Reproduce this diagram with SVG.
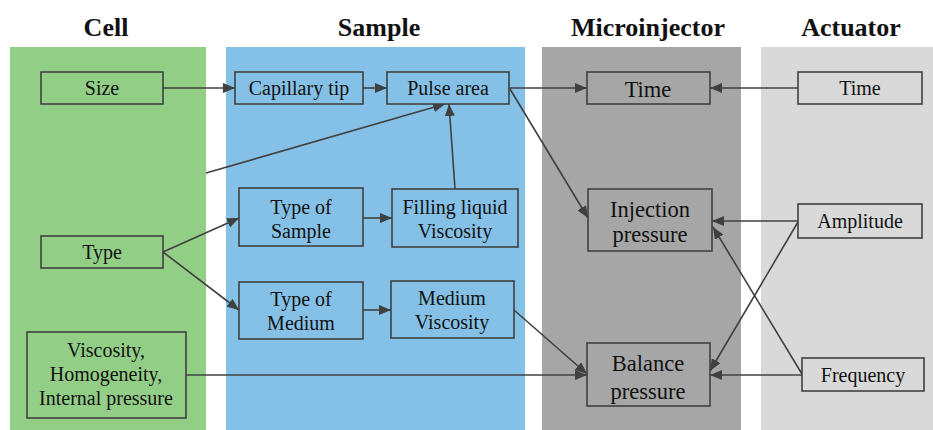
<svg xmlns="http://www.w3.org/2000/svg" width="933" height="430" viewBox="0 0 933 430">
  <style>
    .box { stroke: #404040; stroke-width: 1.6; }
    .cell { fill: #93CE87; }
    .smp { fill: #85C1E6; }
    .mic { fill: #A6A6A6; }
    .act { fill: #D9D9D9; }
    text { font-family: 'Liberation Serif', 'Times New Roman', Tinos, 'DejaVu Serif', serif; fill: #111; text-anchor: middle; }
    .lbl { font-size: 20px; }
    .big { font-size: 22.5px; }
    .hdr { font-size: 26px; font-weight: bold; }
    .edge { stroke: #404040; stroke-width: 1.6; fill: none; marker-end: url(#arrow); }
  </style>
  <defs>
    <marker id="arrow" viewBox="0 0 12 10" refX="12" refY="5" markerWidth="12" markerHeight="10" markerUnits="userSpaceOnUse" orient="auto">
      <path d="M0,0 L12,5 L0,10 z" fill="#404040"/>
    </marker>
  </defs>

  <rect width="933" height="430" fill="#ffffff"/>

  <!-- column backgrounds -->
  <g id="columns">
    <rect x="10" y="47" width="196" height="383" fill="#93CE87"/>
    <rect x="226" y="47" width="299" height="383" fill="#85C1E6"/>
    <rect x="542" y="47" width="199" height="383" fill="#A6A6A6"/>
    <rect x="761" y="47" width="172" height="383" fill="#D9D9D9"/>
  </g>

  <!-- column headings -->
  <g id="headers">
    <text class="hdr" x="106" y="36">Cell</text>
    <text class="hdr" x="379" y="36">Sample</text>
    <text class="hdr" x="648" y="36">Microinjector</text>
    <text class="hdr" x="851" y="36">Actuator</text>
  </g>

  <!-- connectors -->
  <g id="connectors">
    <line class="edge" x1="163" y1="88" x2="235" y2="88"/>
    <line class="edge" x1="363" y1="88" x2="387" y2="88"/>
    <line class="edge" x1="206" y1="173" x2="445" y2="104"/>
    <line class="edge" x1="455" y1="189" x2="449" y2="104"/>
    <line class="edge" x1="509" y1="88" x2="587" y2="88"/>
    <line class="edge" x1="510" y1="89" x2="588" y2="218"/>
    <line class="edge" x1="798" y1="88" x2="710" y2="88"/>
    <line class="edge" x1="163" y1="252" x2="239" y2="218"/>
    <line class="edge" x1="163" y1="252" x2="239" y2="310"/>
    <line class="edge" x1="363" y1="218" x2="392" y2="218"/>
    <line class="edge" x1="363" y1="310" x2="391" y2="310"/>
    <line class="edge" x1="514" y1="310" x2="587" y2="374"/>
    <line class="edge" x1="186" y1="375" x2="587" y2="375"/>
    <line class="edge" x1="798" y1="221" x2="712" y2="221"/>
    <line class="edge" x1="798" y1="222" x2="710" y2="371"/>
    <line class="edge" x1="802" y1="374" x2="713" y2="227"/>
    <line class="edge" x1="802" y1="375" x2="710" y2="375"/>
  </g>

  <!-- Cell column -->
  <g id="cell-size">
    <rect class="box cell" x="41" y="72" width="122" height="32"/>
    <text class="lbl" x="102" y="95">Size</text>
  </g>
  <g id="cell-type">
    <rect class="box cell" x="41" y="236" width="122" height="32"/>
    <text class="lbl" x="102" y="259">Type</text>
  </g>
  <g id="cell-viscosity">
    <rect class="box cell" x="27" y="332" width="159" height="86"/>
    <text class="lbl" x="106" y="357">Viscosity,</text>
    <text class="lbl" x="106" y="381">Homogeneity,</text>
    <text class="lbl" x="106" y="405">Internal pressure</text>
  </g>

  <!-- Sample column -->
  <g id="capillary-tip">
    <rect class="box smp" x="235" y="72" width="128" height="32"/>
    <text class="lbl" x="299" y="95">Capillary tip</text>
  </g>
  <g id="pulse-area">
    <rect class="box smp" x="387" y="72" width="122" height="32"/>
    <text class="lbl" x="448" y="95">Pulse area</text>
  </g>
  <g id="type-of-sample">
    <rect class="box smp" x="239" y="188" width="124" height="58"/>
    <text class="lbl" x="301" y="214">Type of</text>
    <text class="lbl" x="301" y="238">Sample</text>
  </g>
  <g id="filling-liquid">
    <rect class="box smp" x="392" y="189" width="126" height="58"/>
    <text class="lbl" x="455" y="214">Filling liquid</text>
    <text class="lbl" x="455" y="238">Viscosity</text>
  </g>
  <g id="type-of-medium">
    <rect class="box smp" x="239" y="282" width="124" height="57"/>
    <text class="lbl" x="301" y="306">Type of</text>
    <text class="lbl" x="301" y="330">Medium</text>
  </g>
  <g id="medium-viscosity">
    <rect class="box smp" x="391" y="281" width="123" height="57"/>
    <text class="lbl" x="452" y="305">Medium</text>
    <text class="lbl" x="452" y="329">Viscosity</text>
  </g>

  <!-- Microinjector column -->
  <g id="mi-time">
    <rect class="box mic" x="587" y="72" width="123" height="32"/>
    <text class="big" x="648" y="97">Time</text>
  </g>
  <g id="injection-pressure">
    <rect class="box mic" x="588" y="189" width="124" height="62"/>
    <text class="big" x="650" y="217">Injection</text>
    <text class="big" x="650" y="242">pressure</text>
  </g>
  <g id="balance-pressure">
    <rect class="box mic" x="587" y="343" width="123" height="63"/>
    <text class="big" x="648" y="371">Balance</text>
    <text class="big" x="648" y="399">pressure</text>
  </g>

  <!-- Actuator column -->
  <g id="act-time">
    <rect class="box act" x="798" y="72" width="124" height="32"/>
    <text class="lbl" x="860" y="95">Time</text>
  </g>
  <g id="amplitude">
    <rect class="box act" x="798" y="204" width="124" height="34"/>
    <text class="lbl" x="860" y="228">Amplitude</text>
  </g>
  <g id="frequency">
    <rect class="box act" x="802" y="358" width="122" height="33"/>
    <text class="lbl" x="863" y="382">Frequency</text>
  </g>
</svg>
